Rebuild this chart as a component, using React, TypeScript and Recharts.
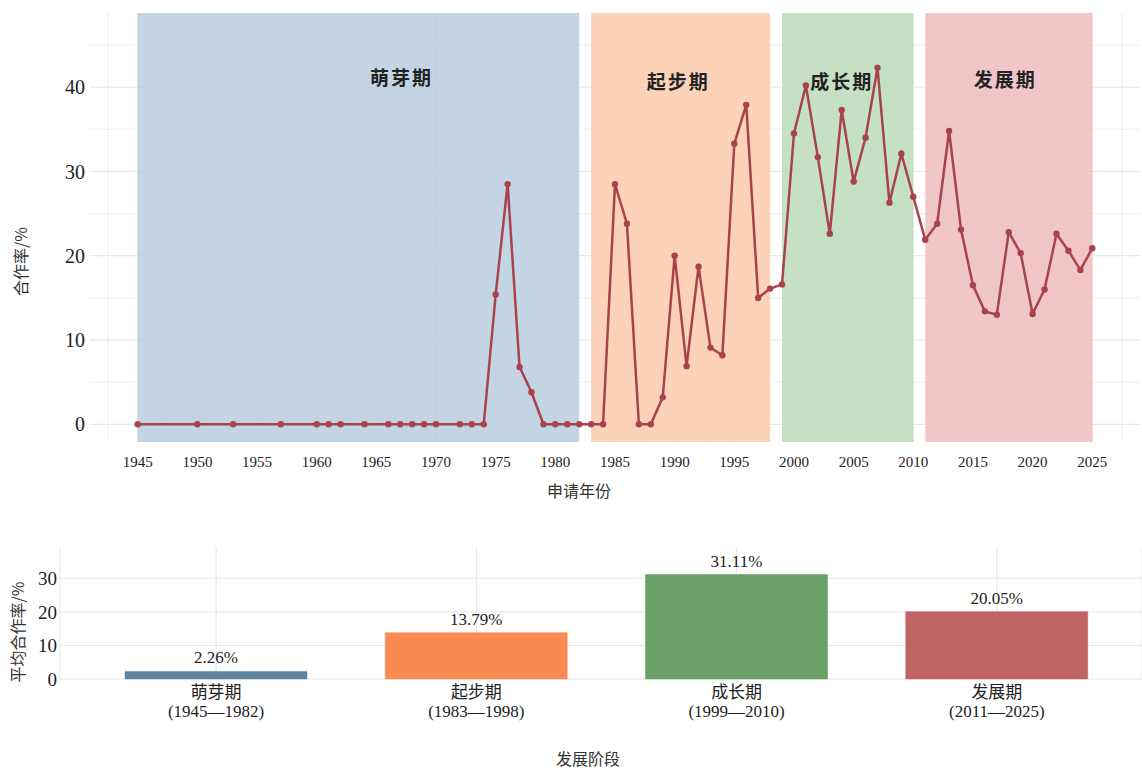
import React from 'react';
import {
  LineChart, Line, XAxis, YAxis, CartesianGrid, ReferenceArea, ReferenceDot,
  BarChart, Bar, LabelList, Cell,
} from 'recharts';

// ---------- data ----------
const years = [
  1945, 1950, 1953, 1957, 1960, 1961, 1962, 1964, 1966, 1967, 1968, 1969, 1970, 1972, 1973, 1974,
  1975, 1976, 1977, 1978, 1979, 1980, 1981, 1982, 1983, 1984, 1985, 1986, 1987, 1988, 1989, 1990,
  1991, 1992, 1993, 1994, 1995, 1996, 1997, 1998, 1999, 2000, 2001, 2002, 2003, 2004, 2005, 2006,
  2007, 2008, 2009, 2010, 2011, 2012, 2013, 2014, 2015, 2016, 2017, 2018, 2019, 2020, 2021, 2022,
  2023, 2024, 2025,
];
const rates = [
  0, 0, 0, 0, 0, 0, 0, 0, 0, 0, 0, 0, 0, 0, 0, 0,
  15.4, 28.5, 6.8, 3.8, 0, 0, 0, 0, 0, 0, 28.5, 23.8, 0, 0, 3.2, 20.0,
  6.9, 18.7, 9.1, 8.2, 33.3, 37.9, 15.0, 16.1, 16.6, 34.5, 40.2, 31.7, 22.6, 37.3, 28.8, 34.0,
  42.3, 26.3, 32.1, 27.0, 21.9, 23.8, 34.8, 23.1, 16.5, 13.4, 13.0, 22.8, 20.3, 13.1, 16.0, 22.6,
  20.6, 18.3, 20.9,
];
const xTicks = [1945, 1950, 1955, 1960, 1965, 1970, 1975, 1980, 1985, 1990, 1995, 2000, 2005, 2010, 2015, 2020, 2025];
const yTicks = [0, 10, 20, 30, 40];

const stageNames = ['萌芽期', '起步期', '成长期', '发展期'];
const stageStart = [1945, 1983, 1999, 2011];
const stageEnd = [1982, 1998, 2010, 2025];
const stageLabelX = [1967.1, 1990.3, 2004.0, 2017.7];
const stageLabelY = [41.1, 40.6, 40.6, 40.8];
const stageBandColors = ['#b9cde0', '#fccbac', '#bcdbba', '#eebcbf'];
const stageBarColors = ['#5d83a0', '#f98b52', '#68a068', '#c06364'];
const stageRanges = ['(1945—1982)', '(1983—1998)', '(1999—2010)', '(2011—2025)'];
const stageMeans = [2.26, 13.79, 31.11, 20.05];
const barTicks = [0, 10, 20, 30];

const lineData = years.map((y, i) => ({ year: y, rate: rates[i] }));
const barData = stageNames.map((n, i) => ({ name: n, range: stageRanges[i], mean: stageMeans[i] }));

const SERIF = "'Liberation Serif', 'Noto Sans CJK SC', serif";
const CJK = "'Noto Sans CJK SC', sans-serif";
const LINE = '#a8434b';

const minorX: number[] = [];
for (let v = 1942.5; v <= 2028; v += 5) minorX.push(v);
const majorX = xTicks;
const minorY = [5, 15, 25, 35, 45];

const StageTick = (props: any) => {
  const { x, y, payload } = props;
  const d = barData[payload.index] || barData.find((b) => b.name === payload.value);
  return (
    <g>
      <text x={x} y={y} textAnchor="middle" fill="#222" fontSize={17} fontFamily={SERIF}>
        <tspan x={x} dy={17}>{payload.value}</tspan>
        <tspan x={x} dy={19}>{d ? d.range : ''}</tspan>
      </text>
    </g>
  );
};

export default function App() {
  return (
    <div style={{ position: 'absolute', left: 0, top: 0, width: 1142, height: 771, background: '#fff' }}>
      <div style={{ position: 'absolute', left: 0, top: 0 }}>
        <LineChart width={1142} height={510} data={lineData} margin={{ top: 13, right: 2, bottom: 0, left: 0 }}>
          <CartesianGrid stroke="#f0f0f0" strokeWidth={1} horizontalValues={minorY} verticalValues={minorX} />
          <CartesianGrid stroke="#e3e3e3" strokeWidth={1} horizontalValues={yTicks} verticalValues={majorX} />
          {stageNames.map((n, i) => (
            <ReferenceArea key={n} x1={stageStart[i]} x2={stageEnd[i]} fill={stageBandColors[i]} fillOpacity={0.85} stroke="none" />
          ))}
          <XAxis
            dataKey="year"
            type="number"
            domain={[1941, 2029]}
            ticks={xTicks}
            allowDataOverflow
            tickLine={false}
            axisLine={false}
            tickSize={0}
            tickMargin={14}
            height={68}
            tick={{ fontSize: 15, fill: '#222', fontFamily: SERIF }}
            label={{ value: '申请年份', position: 'insideBottom', offset: 13, dx: -36, fontSize: 16, fill: '#333', fontFamily: CJK }}
          />
          <YAxis
            type="number"
            domain={[-2.1, 48.8]}
            ticks={yTicks}
            allowDataOverflow
            tickLine={false}
            axisLine={false}
            tickSize={0}
            tickMargin={5}
            width={90}
            tick={{ fontSize: 20, fill: '#222', fontFamily: SERIF }}
            label={{ value: '合作率/%', angle: -90, position: 'insideLeft', offset: 21, dy: 34, fontSize: 16, fill: '#333', fontFamily: CJK, style: { textAnchor: 'middle' } }}
          />
          {stageNames.map((n, i) => (
            <ReferenceDot
              key={'lbl' + n}
              x={stageLabelX[i]}
              y={stageLabelY[i]}
              r={0}
              fill="none"
              stroke="none"
              label={{ value: n, position: 'center', fontSize: 19, fontWeight: 700, fill: '#222', fontFamily: CJK, style: { letterSpacing: '2px' } }}
            />
          ))}
          <Line
            type="linear"
            dataKey="rate"
            stroke={LINE}
            strokeWidth={2.5}
            dot={{ r: 3.2, fill: LINE, stroke: LINE, strokeWidth: 0 }}
            activeDot={false}
            isAnimationActive={false}
          />
        </LineChart>
      </div>
      <div style={{ position: 'absolute', left: 0, top: 520 }}>
        <BarChart width={1142} height={251} data={barData} margin={{ top: 27, right: 0, bottom: 0, left: 0 }}>
          <CartesianGrid stroke="#e6e6e6" strokeWidth={1} horizontalValues={barTicks} />
          <XAxis
            dataKey="name"
            padding={{ left: 26, right: 15 }}
            tickLine={false}
            axisLine={false}
            tickSize={0}
            tickMargin={0}
            height={90}
            interval={0}
            tick={<StageTick />}
            label={{ value: '发展阶段', position: 'insideBottom', offset: 6, dx: -13, fontSize: 16, fill: '#333', fontFamily: CJK }}
          />
          <YAxis
            type="number"
            domain={[-0.6, 39.3]}
            ticks={barTicks}
            allowDataOverflow
            tickLine={false}
            axisLine={false}
            tickSize={0}
            tickMargin={3}
            width={60}
            tick={{ fontSize: 19, fill: '#222', fontFamily: SERIF }}
            label={{ value: '平均合作率/%', angle: -90, position: 'insideLeft', offset: 18, dy: 18, fontSize: 16, fill: '#333', fontFamily: CJK, style: { textAnchor: 'middle' } }}
          />
          <Bar dataKey="mean" barSize={182} isAnimationActive={false}>
            {barData.map((d, i) => (
              <Cell key={d.name} fill={stageBarColors[i]} stroke={stageBarColors[i]} strokeOpacity={0.5} />
            ))}
            <LabelList
              dataKey="mean"
              position="top"
              offset={8}
              formatter={(v: any) => Number(v).toFixed(2) + '%'}
              style={{ fontSize: 17, fill: '#222', fontFamily: SERIF }}
            />
          </Bar>
        </BarChart>
      </div>
    </div>
  );
}
